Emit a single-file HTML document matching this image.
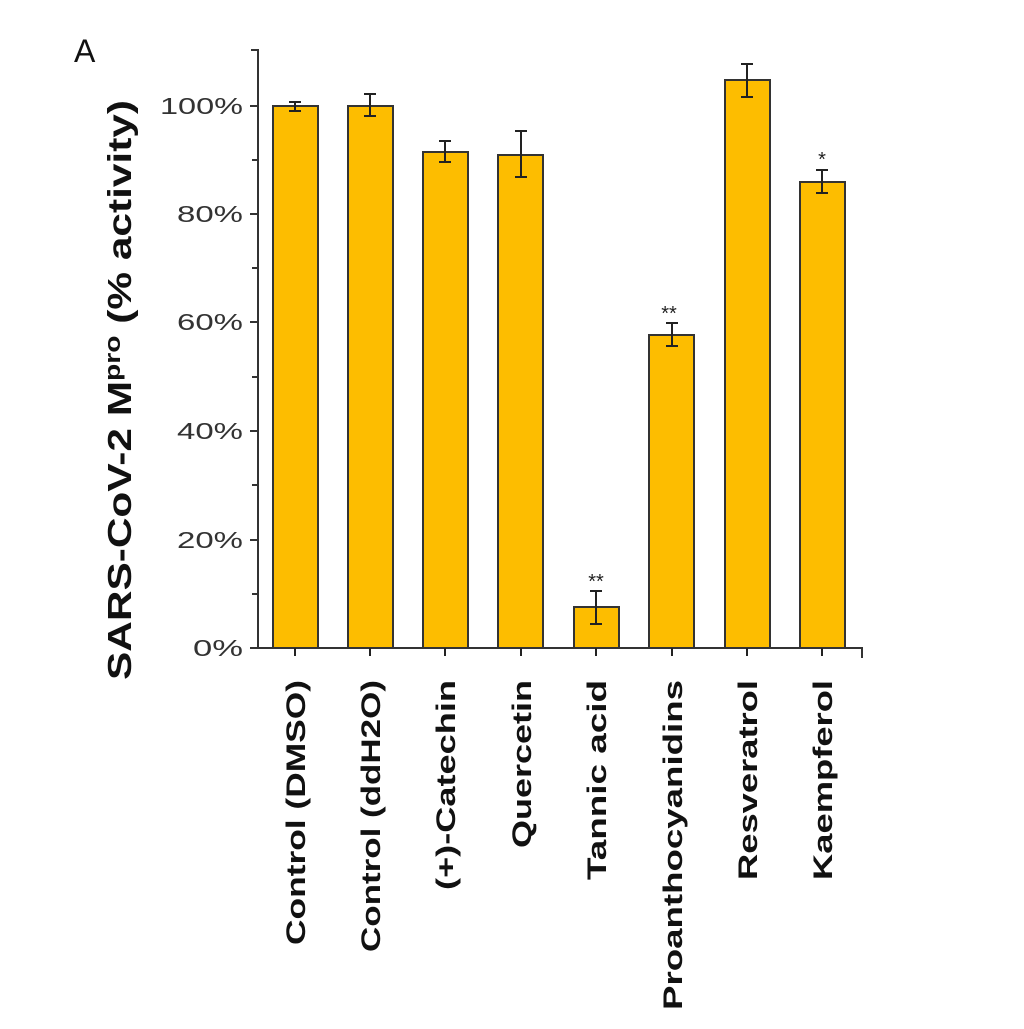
<!DOCTYPE html><html><head><style>body{margin:0;background:#fff}</style></head><body>
<svg width="1024" height="1024" xmlns="http://www.w3.org/2000/svg" font-family="Liberation Sans, sans-serif">
<rect width="1024" height="1024" fill="#fff"/>
<text x="74" y="62" font-size="32" fill="#111">A</text>
<g stroke="#333" stroke-width="2" fill="none">
<path d="M251,50H258V648H862V658"/>
<path d="M250,106H258M250,214H258M250,322H258M250,431H258M250,540H258M250,648H258M252,160H258M252,268H258M252,377H258M252,485H258M252,594H258"/>
</g>
<g font-size="23" fill="#333" text-anchor="end">
<text x="243" y="114" textLength="83" lengthAdjust="spacingAndGlyphs">100%</text><text x="243" y="222" textLength="66" lengthAdjust="spacingAndGlyphs">80%</text><text x="243" y="330" textLength="66" lengthAdjust="spacingAndGlyphs">60%</text><text x="243" y="439" textLength="66" lengthAdjust="spacingAndGlyphs">40%</text><text x="243" y="548" textLength="66" lengthAdjust="spacingAndGlyphs">20%</text><text x="243" y="656" textLength="50" lengthAdjust="spacingAndGlyphs">0%</text>
</g>
<text transform="translate(131,390) rotate(-90)" font-size="33" font-weight="bold" text-anchor="middle" fill="#111" textLength="580" lengthAdjust="spacingAndGlyphs">SARS-CoV-2 M<tspan font-size="22" dy="-11">pro</tspan><tspan dy="11"> (% activity)</tspan></text>
<g fill="#FDBD00" stroke="#333" stroke-width="2">
<rect x="273" y="106" width="45" height="542"/>
<rect x="348" y="106" width="45" height="542"/>
<rect x="423" y="152" width="45" height="496"/>
<rect x="498" y="155" width="45" height="493"/>
<rect x="574" y="607" width="45" height="41"/>
<rect x="649" y="335" width="45" height="313"/>
<rect x="725" y="80" width="45" height="568"/>
<rect x="800" y="182" width="45" height="466"/>
</g>
<g stroke="#222" stroke-width="2" fill="none">
<path d="M295,102V111M289,102H301M289,111H301"/>
<path d="M370,94V116M364,94H376M364,116H376"/>
<path d="M445,141V162M439,141H451M439,162H451"/>
<path d="M521,131V177M515,131H527M515,177H527"/>
<path d="M596,591V624M590,591H602M590,624H602"/>
<path d="M672,323V346M666,323H678M666,346H678"/>
<path d="M747,64V97M741,64H753M741,97H753"/>
<path d="M822,170V193M816,170H828M816,193H828"/>
<path d="M295,648V656M370,648V656M445,648V656M521,648V656M596,648V656M672,648V656M747,648V656M822,648V656"/>
</g>
<g font-size="20" fill="#222" text-anchor="middle">
<text x="596" y="588">**</text><text x="669" y="320">**</text><text x="822" y="166">*</text>
</g>
<g font-size="27" font-weight="bold" fill="#111" text-anchor="end">
<text transform="translate(305,680) rotate(-90)" textLength="265" lengthAdjust="spacingAndGlyphs">Control (DMSO)</text>
<text transform="translate(380,680) rotate(-90)" textLength="272" lengthAdjust="spacingAndGlyphs">Control (ddH2O)</text>
<text transform="translate(455,680) rotate(-90)" textLength="210" lengthAdjust="spacingAndGlyphs">(+)-Catechin</text>
<text transform="translate(531,680) rotate(-90)" textLength="168" lengthAdjust="spacingAndGlyphs">Quercetin</text>
<text transform="translate(606,680) rotate(-90)" textLength="200" lengthAdjust="spacingAndGlyphs">Tannic acid</text>
<text transform="translate(682,680) rotate(-90)" textLength="330" lengthAdjust="spacingAndGlyphs">Proanthocyanidins</text>
<text transform="translate(757,680) rotate(-90)" textLength="200" lengthAdjust="spacingAndGlyphs">Resveratrol</text>
<text transform="translate(832,680) rotate(-90)" textLength="200" lengthAdjust="spacingAndGlyphs">Kaempferol</text>
</g>
</svg></body></html>
